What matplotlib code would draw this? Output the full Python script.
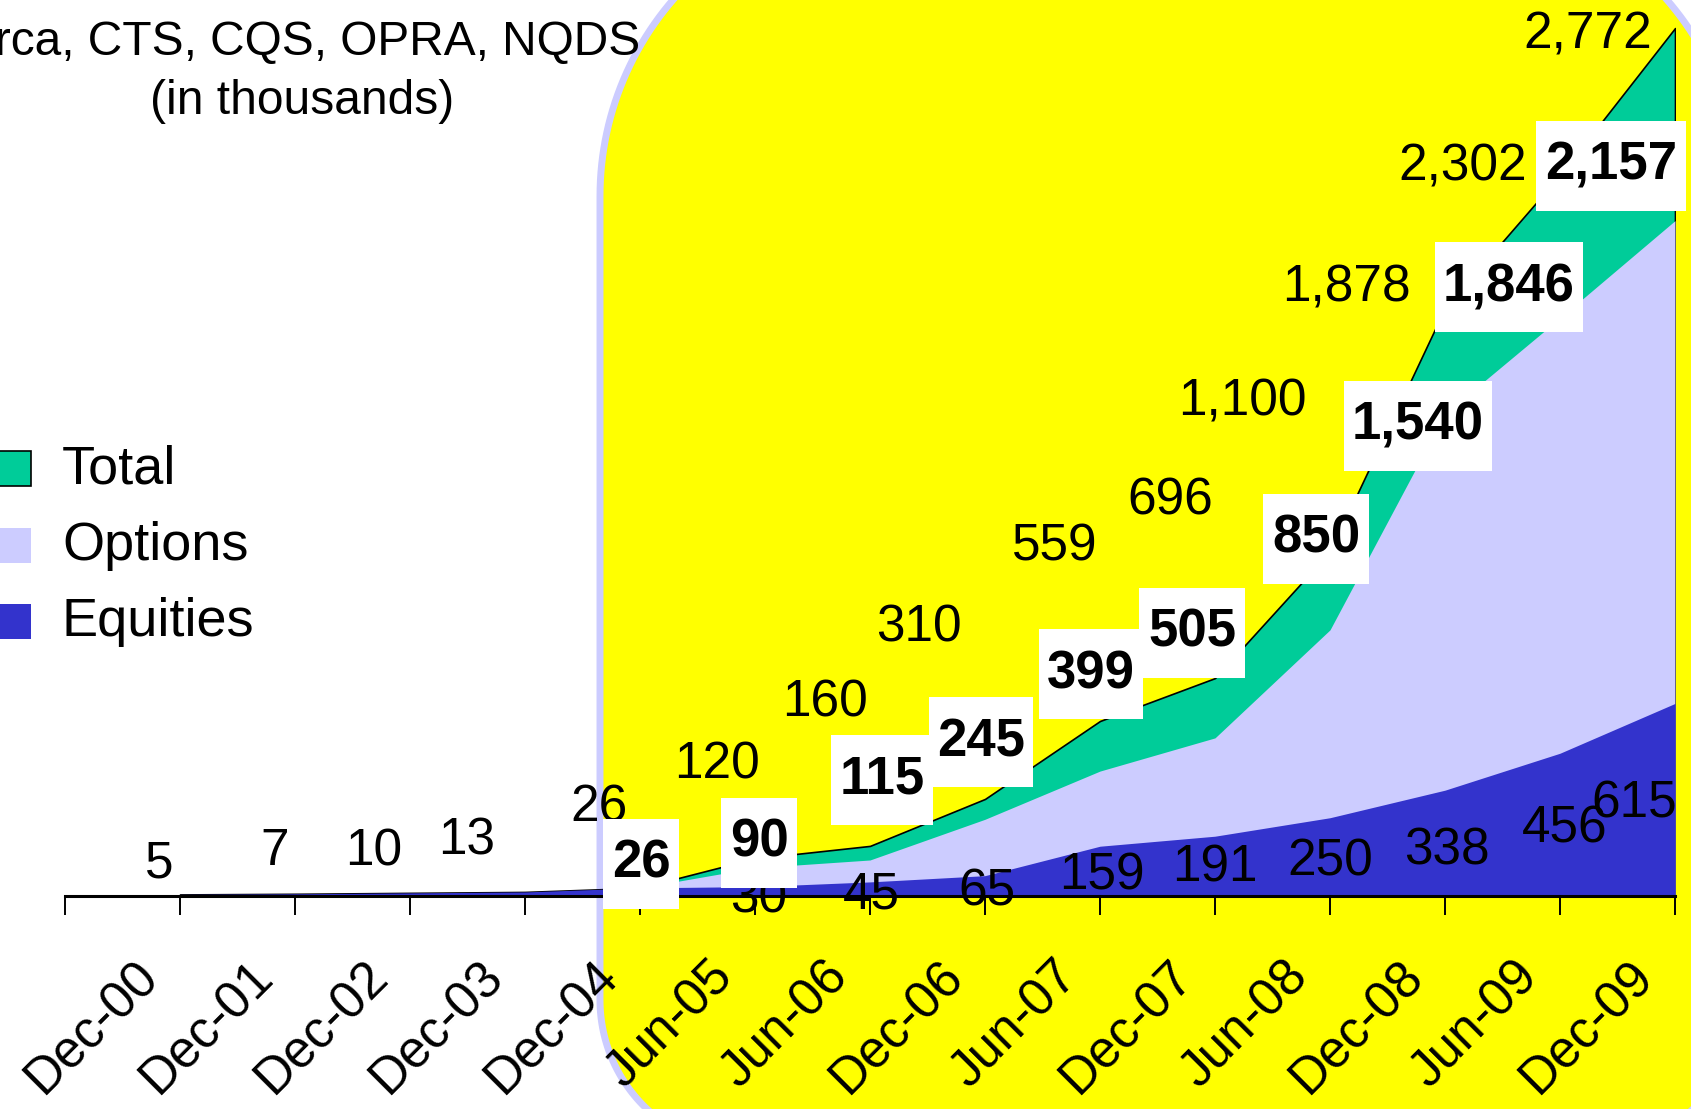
import matplotlib
matplotlib.use('Agg')
import matplotlib.pyplot as plt
import numpy as np
from matplotlib.patches import Polygon, Rectangle
from matplotlib.path import Path

plt.rcParams['font.family'] = ['Liberation Sans', 'DejaVu Sans']

# data (in thousands)
categories = ['Dec-00', 'Dec-01', 'Dec-02', 'Dec-03', 'Dec-04', 'Jun-05', 'Jun-06',
              'Dec-06', 'Jun-07', 'Dec-07', 'Jun-08', 'Dec-08', 'Jun-09', 'Dec-09']
total = [5, 7, 10, 13, 26, 120, 160, 310, 559, 696, 1100, 1878, 2302, 2772]
options = [0, 0, 0, 0, 26, 90, 115, 245, 399, 505, 850, 1540, 1846, 2157]
equities = [5, 7, 10, 13, 26, 30, 45, 65, 159, 191, 250, 338, 456, 615]

# label offsets in pixels (hand placed like the original slide)
total_off = [(-21, 35), (-20, 47), (-36, 46), (-58, 56), (-41, 85), (-38, 98), (-45, 148),
             (-66, 176), (-45, 179), (-45, 182), (-88, 155), (-99, 25), (-97, 13), (-87, -2)]
opt_first = 4
opt_off = [(1, 24), (4, 25), (12, 80), (-4, 77), (-9, 97), (-23, 105), (-14, 91),
           (-27, -12), (-51, 31), (-64, 55)]
eq_first = 5
eq_off = [(4, -7), (1, -8), (2, -11), (2, -25), (0, -27), (0, -39), (2, -56), (5, -71), (-41, -96)]
plain_dy = -5  # glyph centre sits a bit above the text box centre

c_total = '#00CC99'
c_options = '#CCCCFF'
c_equities = '#3333CC'

W, H = 1691, 1109
fig = plt.figure(figsize=(W / 100, H / 100), dpi=100)
fig.patch.set_facecolor('white')


def arc(cx, cy, r, a0, a1):
    t = np.radians(np.linspace(a0, a1, 60))
    return np.column_stack([cx + r * np.cos(t), cy + r * np.sin(t)])


# yellow rounded panel behind the recent data
x0, x1, yt, yb, rt, rb = 600, 1740, H + 104, -41, 300, 150
pts = np.vstack([arc(x1 - rt, yt - rt, rt, 0, 90),
                 arc(x0 + rt, yt - rt, rt, 90, 180),
                 arc(x0 + rb, yb + rb, rb, 180, 270),
                 arc(x1 - rb, yb + rb, rb, 270, 360)]) / 100
fig.add_artist(Polygon(pts, closed=True, transform=fig.dpi_scale_trans,
                       facecolor='#FFFF00', edgecolor='#CCCCFF', lw=5, zorder=-1))

ax = fig.add_axes([65 / W, (H - 896) / H, 1610 / W, 896 / H])
ax.set_facecolor('none')
x = np.arange(len(categories))
ax.fill_between(x, total, color=c_total, edgecolor='black', lw=1.2, zorder=1)
ax.fill_between(x, options, color=c_options, lw=0, zorder=1.1)
ax.fill_between(x, equities, color=c_equities, lw=0, zorder=1.2)
ax.set_xlim(-1, 13)
ax.set_ylim(0, 896 / 0.3131)

for s in ['left', 'top', 'right']:
    ax.spines[s].set_visible(False)
ax.spines['bottom'].set_linewidth(2.2)
ax.set_yticks([])
ax.set_xticks(np.arange(-1, 14))
ax.tick_params(axis='x', direction='out', length=13.7, width=1.4, labelbottom=False)

for i, c in enumerate(categories):
    ax.annotate(c, xy=(i, 0), xycoords=('data', 'axes fraction'), xytext=(-12, -56),
                textcoords='offset pixels', rotation=45, ha='right', va='top', fontsize=37)

for i, v in enumerate(total):
    dx, dy = total_off[i]
    ax.annotate(f'{v:,}', xy=(i, v), xytext=(dx, dy + plain_dy), textcoords='offset pixels',
                ha='center', va='center', fontsize=37, zorder=5)

for k, i in enumerate(range(eq_first, len(categories))):
    dx, dy = eq_off[k]
    ax.annotate(f'{equities[i]:,}', xy=(i, equities[i]), xytext=(dx, dy + plain_dy),
                textcoords='offset pixels', ha='center', va='center', fontsize=37, zorder=5)


def label_box(bx, by, bw, bh, mutation_size):
    px, py = 0.16 * mutation_size, 0.38 * mutation_size
    return Path([(bx - px, by - py), (bx + bw + px, by - py), (bx + bw + px, by + bh + py),
                 (bx - px, by + bh + py), (bx - px, by - py)], closed=True)


for k, i in enumerate(range(opt_first, len(categories))):
    ax.annotate(f'{options[i]:,}', xy=(i, options[i]), xytext=opt_off[k], textcoords='offset pixels',
                ha='center', va='center', fontsize=38, fontweight='bold', zorder=6,
                bbox=dict(boxstyle=label_box, facecolor='white', edgecolor='none'))

# legend (partly cut off at the left edge)
legend_items = [('Total', c_total, 451, 'black'), ('Options', c_options, 528, 'none'),
                ('Equities', c_equities, 604, 'none')]
for name, col, top, ec in legend_items:
    fig.add_artist(Rectangle((-5 / 100, (H - top - 35) / 100), 36 / 100, 35 / 100,
                             transform=fig.dpi_scale_trans, facecolor=col, edgecolor=ec, lw=1.2))
    fig.text(62 / W, 1 - (top + 18) / H, name, ha='left', va='center', fontsize=39)

fig.text(302 / W, 1 - 43 / H, 'Arca, CTS, CQS, OPRA, NQDS', ha='center', va='center', fontsize=34.5)
fig.text(302 / W, 1 - 102 / H, '(in thousands)', ha='center', va='center', fontsize=34.5)

fig.savefig('out.png', dpi=100)
